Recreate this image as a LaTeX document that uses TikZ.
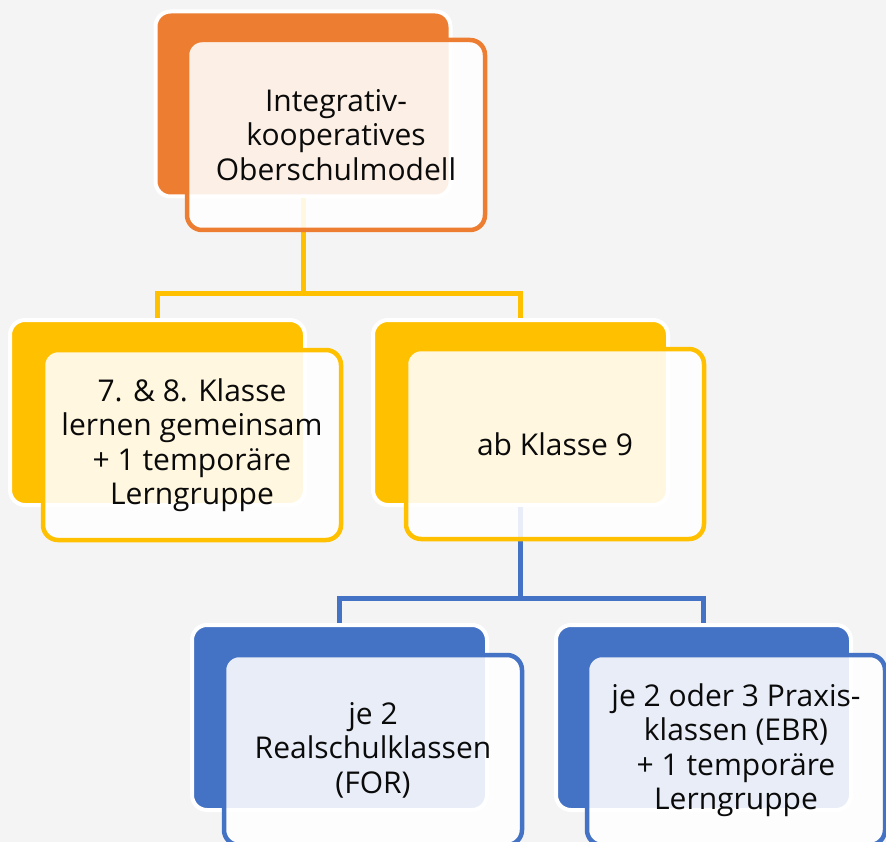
\documentclass[tikz,border=0pt]{standalone}
\usepackage{fontspec}
\setmainfont{Open Sans}
\definecolor{bg}{HTML}{F4F4F4}
\definecolor{cOr}{HTML}{ED7D31}
\definecolor{cYe}{HTML}{FFC000}
\definecolor{cBl}{HTML}{4472C4}
\definecolor{txt}{HTML}{0A0A0A}
\tikzset{
  backbox/.style={rectangle, rounded corners=15pt, minimum width=295pt, minimum height=185pt, inner sep=0pt, fill=#1, draw=white, line width=4pt},
  frontbox/.style={rectangle, rounded corners=15pt, minimum width=298pt, minimum height=190pt, inner sep=0pt, fill=white, fill opacity=0.88, text opacity=1, draw=#1, draw opacity=1, line width=4.5pt, align=center, text=txt, font=\fontsize{30}{34.5}\selectfont},
  conn/.style={draw=#1, line width=5pt}
}
\begin{document}
\begin{tikzpicture}[x=1pt, y=-1pt]
\useasboundingbox (0,0) rectangle (886,842);
\fill[bg] (0,0) rectangle (886,842);
% back boxes
\node[backbox=cOr] (bp) at (303,104) {};
\node[backbox=cYe] (bl) at (157.5,412.5) {};
\node[backbox=cYe] (bm) at (520.5,412.5) {};
\node[backbox=cBl] (bbl) at (339.5,717.5) {};
\node[backbox=cBl] (bbr) at (703.5,717.5) {};
% connectors
\draw[conn=cYe] (bp.south) -- ++(0,95) -| (bl.north);
\draw[conn=cYe] (bp.south) ++(0,95) -| (bm.north);
\draw[conn=cBl] (bm.south) -- ++(0,91) -| (bbl.north);
\draw[conn=cBl] (bm.south) ++(0,91) -| (bbr.north);
% front boxes
\node[frontbox=cOr] (fp) at (336,135) {Integrativ-\\kooperatives\\Oberschulmodell};
\node[frontbox=cYe] (fl) at (192,445) {7. \& 8. Klasse\\lernen gemeinsam\\+ 1 temporäre\\Lerngruppe};
\node[frontbox=cYe] (fm) at (555,444) {ab Klasse 9};
\node[frontbox=cBl] (fbl) at (373,750) {je 2\\Realschulklassen\\(FOR)};
\node[frontbox=cBl] (fbr) at (736,750) {je 2 oder 3 Praxis-\\klassen (EBR)\\+ 1 temporäre\\Lerngruppe};
\end{tikzpicture}
\end{document}
